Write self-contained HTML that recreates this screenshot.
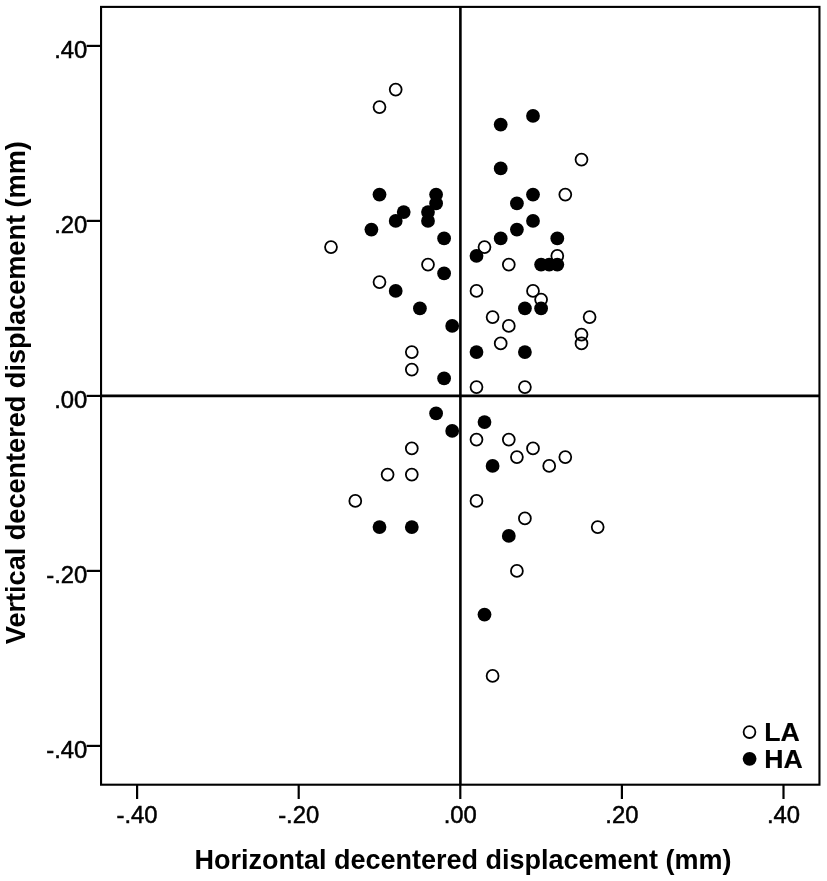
<!DOCTYPE html>
<html lang="en"><head><meta charset="utf-8"><title>Decentered displacement scatter plot</title>
<style>
html,body{margin:0;padding:0;background:#fff;}
body{width:827px;height:881px;overflow:hidden;}
svg{display:block;filter:blur(0.35px);}
text{font-family:"Liberation Sans",Arial,Helvetica,sans-serif;fill:#000;}
.tick{font-size:23.8px;stroke:#000;stroke-width:0.5px;}
.title{font-size:27px;font-weight:bold;}
.leg{font-size:26.7px;font-weight:bold;stroke:#000;stroke-width:0.15px;}
</style></head><body>
<svg width="827" height="881" viewBox="0 0 827 881">
<rect x="0" y="0" width="827" height="881" fill="#fff"/>
<rect x="101.05" y="6.9" width="718.4" height="777.8" fill="none" stroke="#000" stroke-width="2.1"/>
<line x1="460.4" y1="6.9" x2="460.4" y2="784.7" stroke="#000" stroke-width="2.6"/>
<line x1="101.05" y1="395.9" x2="819.4" y2="395.9" stroke="#000" stroke-width="2.6"/>
<line x1="137.1" y1="784.7" x2="137.1" y2="799.0" stroke="#000" stroke-width="2.2"/>
<text class="tick" x="137.1" y="823.4" text-anchor="middle">-.40</text>
<line x1="86.6" y1="745.9" x2="101.05" y2="745.9" stroke="#000" stroke-width="2.2"/>
<text class="tick" x="87.3" y="757.7" text-anchor="end">-.40</text>
<line x1="298.7" y1="784.7" x2="298.7" y2="799.0" stroke="#000" stroke-width="2.2"/>
<text class="tick" x="298.7" y="823.4" text-anchor="middle">-.20</text>
<line x1="86.6" y1="570.9" x2="101.05" y2="570.9" stroke="#000" stroke-width="2.2"/>
<text class="tick" x="87.3" y="582.7" text-anchor="end">-.20</text>
<line x1="460.3" y1="784.7" x2="460.3" y2="799.0" stroke="#000" stroke-width="2.2"/>
<text class="tick" x="460.3" y="823.4" text-anchor="middle">.00</text>
<line x1="86.6" y1="395.9" x2="101.05" y2="395.9" stroke="#000" stroke-width="2.2"/>
<text class="tick" x="87.3" y="407.7" text-anchor="end">.00</text>
<line x1="621.9" y1="784.7" x2="621.9" y2="799.0" stroke="#000" stroke-width="2.2"/>
<text class="tick" x="621.9" y="823.4" text-anchor="middle">.20</text>
<line x1="86.6" y1="220.9" x2="101.05" y2="220.9" stroke="#000" stroke-width="2.2"/>
<text class="tick" x="87.3" y="232.7" text-anchor="end">.20</text>
<line x1="783.5" y1="784.7" x2="783.5" y2="799.0" stroke="#000" stroke-width="2.2"/>
<text class="tick" x="783.5" y="823.4" text-anchor="middle">.40</text>
<line x1="86.6" y1="45.9" x2="101.05" y2="45.9" stroke="#000" stroke-width="2.2"/>
<text class="tick" x="87.3" y="57.7" text-anchor="end">.40</text>
<circle cx="395.7" cy="89.6" r="5.95" fill="none" stroke="#000" stroke-width="1.8"/>
<circle cx="379.5" cy="107.1" r="5.95" fill="none" stroke="#000" stroke-width="1.8"/>
<circle cx="581.5" cy="159.6" r="5.95" fill="none" stroke="#000" stroke-width="1.8"/>
<circle cx="565.3" cy="194.6" r="5.95" fill="none" stroke="#000" stroke-width="1.8"/>
<circle cx="331.0" cy="247.1" r="5.95" fill="none" stroke="#000" stroke-width="1.8"/>
<circle cx="484.5" cy="247.1" r="5.95" fill="none" stroke="#000" stroke-width="1.8"/>
<circle cx="428.0" cy="264.6" r="5.95" fill="none" stroke="#000" stroke-width="1.8"/>
<circle cx="508.8" cy="264.6" r="5.95" fill="none" stroke="#000" stroke-width="1.8"/>
<circle cx="557.3" cy="255.9" r="5.95" fill="none" stroke="#000" stroke-width="1.8"/>
<circle cx="379.5" cy="282.1" r="5.95" fill="none" stroke="#000" stroke-width="1.8"/>
<circle cx="476.5" cy="290.9" r="5.95" fill="none" stroke="#000" stroke-width="1.8"/>
<circle cx="533.0" cy="290.9" r="5.95" fill="none" stroke="#000" stroke-width="1.8"/>
<circle cx="541.1" cy="299.6" r="5.95" fill="none" stroke="#000" stroke-width="1.8"/>
<circle cx="492.6" cy="317.1" r="5.95" fill="none" stroke="#000" stroke-width="1.8"/>
<circle cx="589.6" cy="317.1" r="5.95" fill="none" stroke="#000" stroke-width="1.8"/>
<circle cx="508.8" cy="325.9" r="5.95" fill="none" stroke="#000" stroke-width="1.8"/>
<circle cx="581.5" cy="334.6" r="5.95" fill="none" stroke="#000" stroke-width="1.8"/>
<circle cx="500.7" cy="343.4" r="5.95" fill="none" stroke="#000" stroke-width="1.8"/>
<circle cx="581.5" cy="343.4" r="5.95" fill="none" stroke="#000" stroke-width="1.8"/>
<circle cx="411.8" cy="352.1" r="5.95" fill="none" stroke="#000" stroke-width="1.8"/>
<circle cx="411.8" cy="369.6" r="5.95" fill="none" stroke="#000" stroke-width="1.8"/>
<circle cx="476.5" cy="387.1" r="5.95" fill="none" stroke="#000" stroke-width="1.8"/>
<circle cx="524.9" cy="387.1" r="5.95" fill="none" stroke="#000" stroke-width="1.8"/>
<circle cx="476.5" cy="439.6" r="5.95" fill="none" stroke="#000" stroke-width="1.8"/>
<circle cx="508.8" cy="439.6" r="5.95" fill="none" stroke="#000" stroke-width="1.8"/>
<circle cx="411.8" cy="448.4" r="5.95" fill="none" stroke="#000" stroke-width="1.8"/>
<circle cx="533.0" cy="448.4" r="5.95" fill="none" stroke="#000" stroke-width="1.8"/>
<circle cx="516.9" cy="457.1" r="5.95" fill="none" stroke="#000" stroke-width="1.8"/>
<circle cx="565.3" cy="457.1" r="5.95" fill="none" stroke="#000" stroke-width="1.8"/>
<circle cx="549.2" cy="465.9" r="5.95" fill="none" stroke="#000" stroke-width="1.8"/>
<circle cx="387.6" cy="474.6" r="5.95" fill="none" stroke="#000" stroke-width="1.8"/>
<circle cx="411.8" cy="474.6" r="5.95" fill="none" stroke="#000" stroke-width="1.8"/>
<circle cx="355.3" cy="500.9" r="5.95" fill="none" stroke="#000" stroke-width="1.8"/>
<circle cx="476.5" cy="500.9" r="5.95" fill="none" stroke="#000" stroke-width="1.8"/>
<circle cx="524.9" cy="518.4" r="5.95" fill="none" stroke="#000" stroke-width="1.8"/>
<circle cx="597.7" cy="527.1" r="5.95" fill="none" stroke="#000" stroke-width="1.8"/>
<circle cx="516.9" cy="570.9" r="5.95" fill="none" stroke="#000" stroke-width="1.8"/>
<circle cx="492.6" cy="675.9" r="5.95" fill="none" stroke="#000" stroke-width="1.8"/>
<circle cx="533.0" cy="115.9" r="6.9" fill="#000"/>
<circle cx="500.7" cy="124.6" r="6.9" fill="#000"/>
<circle cx="500.7" cy="168.4" r="6.9" fill="#000"/>
<circle cx="379.5" cy="194.6" r="6.9" fill="#000"/>
<circle cx="436.1" cy="194.6" r="6.9" fill="#000"/>
<circle cx="533.0" cy="194.6" r="6.9" fill="#000"/>
<circle cx="436.1" cy="203.4" r="6.9" fill="#000"/>
<circle cx="516.9" cy="203.4" r="6.9" fill="#000"/>
<circle cx="403.7" cy="212.1" r="6.9" fill="#000"/>
<circle cx="428.0" cy="212.1" r="6.9" fill="#000"/>
<circle cx="395.7" cy="220.9" r="6.9" fill="#000"/>
<circle cx="428.0" cy="220.9" r="6.9" fill="#000"/>
<circle cx="533.0" cy="220.9" r="6.9" fill="#000"/>
<circle cx="371.4" cy="229.6" r="6.9" fill="#000"/>
<circle cx="516.9" cy="229.6" r="6.9" fill="#000"/>
<circle cx="444.1" cy="238.4" r="6.9" fill="#000"/>
<circle cx="500.7" cy="238.4" r="6.9" fill="#000"/>
<circle cx="557.3" cy="238.4" r="6.9" fill="#000"/>
<circle cx="476.5" cy="255.9" r="6.9" fill="#000"/>
<circle cx="541.1" cy="264.6" r="6.9" fill="#000"/>
<circle cx="549.2" cy="264.6" r="6.9" fill="#000"/>
<circle cx="557.3" cy="264.6" r="6.9" fill="#000"/>
<circle cx="444.1" cy="273.4" r="6.9" fill="#000"/>
<circle cx="395.7" cy="290.9" r="6.9" fill="#000"/>
<circle cx="419.9" cy="308.4" r="6.9" fill="#000"/>
<circle cx="524.9" cy="308.4" r="6.9" fill="#000"/>
<circle cx="541.1" cy="308.4" r="6.9" fill="#000"/>
<circle cx="452.2" cy="325.9" r="6.9" fill="#000"/>
<circle cx="476.5" cy="352.1" r="6.9" fill="#000"/>
<circle cx="524.9" cy="352.1" r="6.9" fill="#000"/>
<circle cx="444.1" cy="378.4" r="6.9" fill="#000"/>
<circle cx="436.1" cy="413.4" r="6.9" fill="#000"/>
<circle cx="452.2" cy="430.9" r="6.9" fill="#000"/>
<circle cx="484.5" cy="422.1" r="6.9" fill="#000"/>
<circle cx="492.6" cy="465.9" r="6.9" fill="#000"/>
<circle cx="379.5" cy="527.1" r="6.9" fill="#000"/>
<circle cx="411.8" cy="527.1" r="6.9" fill="#000"/>
<circle cx="508.8" cy="535.9" r="6.9" fill="#000"/>
<circle cx="484.5" cy="614.6" r="6.9" fill="#000"/>
<circle cx="749.5" cy="732.1" r="5.9" fill="#fff" stroke="#000" stroke-width="1.8"/>
<circle cx="749.6" cy="758.8" r="6.9" fill="#000"/>
<text class="leg" x="764.3" y="741.25">LA</text>
<text class="leg" x="764.3" y="768.35">HA</text>
<text class="title" x="463" y="869" text-anchor="middle">Horizontal decentered displacement (mm)</text>
<text class="title" style="font-size:27.1px" transform="translate(25,392.7) rotate(-90)" text-anchor="middle">Vertical decentered displacement (mm)</text>
</svg></body></html>
